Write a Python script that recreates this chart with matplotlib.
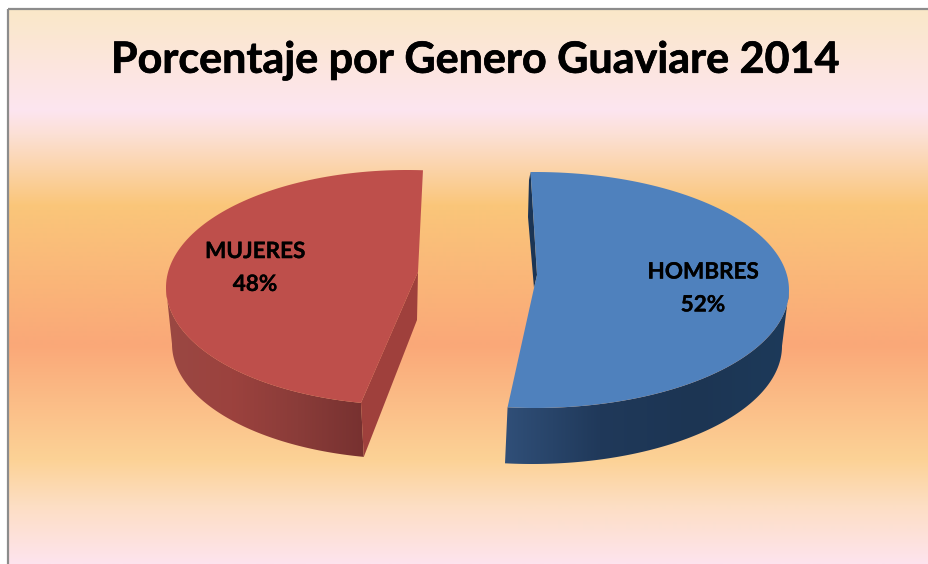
import numpy as np
import matplotlib
matplotlib.use("Agg")
import matplotlib.pyplot as plt
import matplotlib.patheffects as pe
from matplotlib.patches import Polygon, Rectangle
from matplotlib.colors import LinearSegmentedColormap

title = "Porcentaje por Genero Guaviare 2014"
categories = ["HOMBRES", "MUJERES"]
percentages = [52, 48]

W, H = 929, 564
DEPTH_COLORS = {
    "HOMBRES": ["#304f78", "#20395a", "#1c3553", "#1d3a5a"],
    "MUJERES": ["#9a4843", "#9c423e", "#8a3c39", "#773130"],
}
TOP_COLORS = {"HOMBRES": "#4f81bd", "MUJERES": "#be4f4b"}

# slice geometry in pixels: top ellipse, bottom ellipse, start angle
SLICES = {
    "HOMBRES": dict(top=(535, 290, 254, 118), bottom=(532, 346, 250, 118), start=-91,
                    apex=[(534, 288), (537, 275)], wall=(0, None)),
    "MUJERES": dict(top=(407, 287.5, 241, 117.5), bottom=(409, 344, 237, 115), start=101,
                    apex=[(418, 272)], wall=(None, 180)),
}


def arc(ellipse, t0, t1, n=120):
    cx, cy, rx, ry = ellipse
    t = np.radians(np.linspace(t0, t1, n))
    return np.column_stack([cx + rx * np.cos(t), cy + ry * np.sin(t)])


def gradient_patch(ax, points, colors):
    """fill a polygon with a left to right gradient"""
    xmin, xmax = points[:, 0].min(), points[:, 0].max()
    ymin, ymax = points[:, 1].min(), points[:, 1].max()
    cmap = LinearSegmentedColormap.from_list("wall", colors)
    im = ax.imshow(np.linspace(0, 1, 256)[None, :], cmap=cmap, aspect="auto",
                   extent=(xmin, xmax, ymax, ymin), zorder=2)
    im.set_clip_path(Polygon(points, transform=ax.transData))


def draw_background(ax):
    stops = [9, 60, 110, 135, 205, 345, 460, 505, 564]
    colors = np.array([
        [250, 232, 200], [252, 230, 220], [253, 229, 240], [252, 224, 212],
        [250, 198, 122], [250, 168, 120], [252, 210, 150], [253, 222, 195], [253, 228, 238],
    ]) / 255.0
    rows = np.arange(9, H + 1)
    img = np.stack([np.interp(rows, stops, colors[:, i]) for i in range(3)], axis=1)[:, None, :]
    ax.imshow(img, aspect="auto", extent=(8, W, H, 9), zorder=0)
    ax.add_patch(Rectangle((8, 9), W + 10, H + 10, fill=False, ec="#8c8c8c", lw=1.6, zorder=1))


def plot_pie():
    fig = plt.figure(figsize=(W / 100, H / 100), dpi=100)
    ax = fig.add_axes([0, 0, 1, 1])
    draw_background(ax)

    total = sum(percentages)
    for name, pct in zip(categories, percentages):
        s = SLICES[name]
        t0 = s["start"]
        t1 = t0 + pct / total * 360
        top_arc = arc(s["top"], t0, t1)

        # outer wall, only the part facing the viewer
        w0 = s["wall"][0] if s["wall"][0] is not None else t0
        w1 = s["wall"][1] if s["wall"][1] is not None else t1
        wall = np.vstack([arc(s["top"], w0, w1), arc(s["bottom"], w1, w0)])
        gradient_patch(ax, wall, DEPTH_COLORS[name])

        if name == "MUJERES":
            # cut face, running down from the centre to the front corner
            bottom_corner = arc(s["bottom"], t0, t0, 1)[0]
            cut = [s["apex"][0], top_arc[0], bottom_corner, (417, 320)]
            ax.add_patch(Polygon(cut, fc="#9f403c", ec="none", zorder=3))
        else:
            # thin dark sliver seen behind the top edge
            cut = [top_arc[0], s["apex"][1], s["apex"][0], (528, 217), (529, 180)]
            ax.add_patch(Polygon(cut, fc="#1b3555", ec="none", zorder=3))

        ax.add_patch(Polygon(np.vstack([top_arc, s["apex"]]), fc=TOP_COLORS[name], ec="none", zorder=4))

    stroke = [pe.withStroke(linewidth=0.2, foreground="black")]
    label_pos = {"HOMBRES": (703, 288.5), "MUJERES": (255, 268)}
    for name, pct in zip(categories, percentages):
        x, y = label_pos[name]
        ax.text(x, y, "{}\n{}%".format(name, pct), ha="center", va="center", fontsize=16.2,
                fontweight="bold", color="black", family="Lato", linespacing=1.7, zorder=6,
                path_effects=stroke)

    ax.text(475, 60, title, ha="center", va="center", fontsize=31, fontweight="bold",
            color="black", family="Lato", zorder=6,
            path_effects=[pe.withStroke(linewidth=0.5, foreground="black")])

    ax.set_xlim(0, W)
    ax.set_ylim(H, 0)
    ax.axis("off")
    fig.savefig("out.png", dpi=100, facecolor="white")


if __name__ == "__main__":
    plot_pie()
